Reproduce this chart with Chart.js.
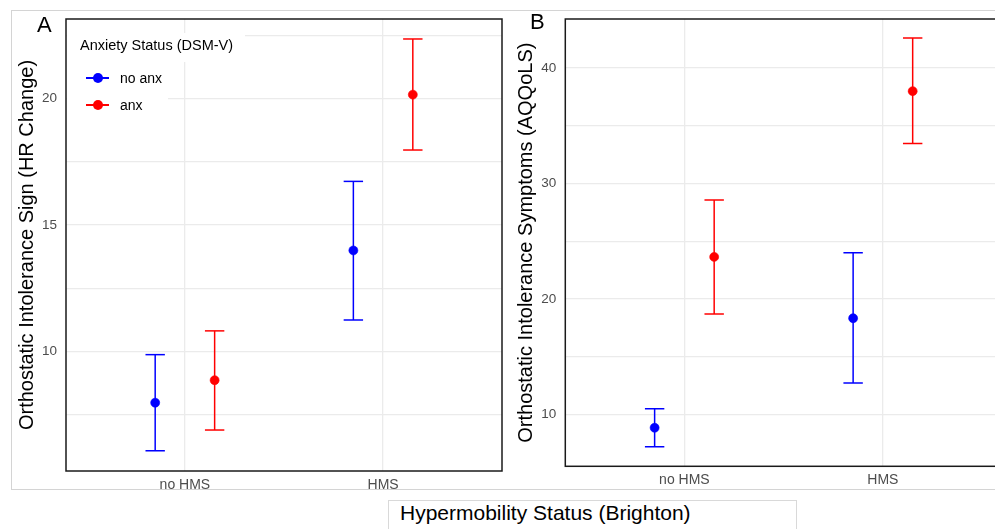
<!DOCTYPE html>
<html>
<head>
<meta charset="utf-8">
<script src="https://cdn.jsdelivr.net/npm/chart.js"></script>
<style>
  body { margin: 0; width: 995px; height: 529px; overflow: hidden; background: #fff; position: relative; font-family: 'Liberation Sans', Arial, sans-serif; }
  .abs { position: absolute; }
  canvas { display: block; }
  #frame { left: 11px; top: 10px; width: 1000px; height: 478px; border: 1px solid #d4d4d4; }
  .lg-box { position: absolute; background: #fff; }
  .lg-title { position: absolute; left: 80px; top: 37px; font-size: 14.5px; line-height: 17px; color: #000; white-space: nowrap; }
  .lg-item { position: absolute; left: 86px; height: 16px; font-size: 14px; line-height: 16px; color: #000; white-space: nowrap; }
  .lg-line { position: absolute; left: 0; top: 7px; width: 23px; height: 1.5px; }
  .lg-dot { position: absolute; left: 7px; top: 3px; width: 10px; height: 10px; border-radius: 50%; }
  .lg-text { position: absolute; left: 34px; top: 0; }
  .panel-tag { position: absolute; font-size: 22px; line-height: 22px; color: #000; }
  #xTitle { left: 388px; top: 500px; width: 396px; height: 40px; border: 1px solid #d9d9d9; padding-left: 11px; font-size: 21px; line-height: 24px; color: #000; white-space: nowrap; }
</style>
</head>
<body>
<div id="frame" class="abs"></div>
<div class="abs" style="left:0;top:0"><canvas id="chartA" width="504" height="500"></canvas></div>
<div class="abs" style="left:499px;top:0"><canvas id="chartB" width="503" height="500"></canvas></div>
<div id="legend"></div>
<div class="panel-tag" style="left:37px;top:14px">A</div>
<div class="panel-tag" style="left:530px;top:11px">B</div>
<div id="xTitle" class="abs">Hypermobility Status (Brighton)</div>

<script>
const categories = ['no HMS', 'HMS'];
const groups = ['no anx', 'anx'];
const groupColors = ['#0000ff', '#ff0000'];
const dodge = [-0.15, 0.15];

// Panel A: HR change (mean, lower, upper)
const hrMeanNoAnx = [7.98, 14.0];
const hrLowNoAnx = [6.08, 11.25];
const hrHighNoAnx = [9.88, 16.73];
const hrMeanAnx = [8.87, 20.16];
const hrLowAnx = [6.90, 17.97];
const hrHighAnx = [10.82, 22.36];
const hrTicks = [10, 15, 20];

// Panel B: AQQoLS
const sxMeanNoAnx = [8.84, 18.33];
const sxLowNoAnx = [7.19, 12.71];
const sxHighNoAnx = [10.49, 23.99];
const sxMeanAnx = [23.64, 38.0];
const sxLowAnx = [18.7, 33.47];
const sxHighAnx = [28.58, 42.6];
const sxTicks = [10, 20, 30, 40];

Chart.defaults.font.family = "'Liberation Sans', Arial, sans-serif";

function buildDatasets(means, lows, highs) {
    let sets = [];
    groups.forEach((g, gi) => {
        let color = groupColors[gi];
        categories.forEach((c, ci) => {
            let x = ci + 1 + dodge[gi];
            sets.push({
                data: [{ x, y: lows[gi][ci] }, { x, y: highs[gi][ci] }],
                showLine: true,
                borderColor: color,
                borderWidth: 1.5,
                pointStyle: 'line',
                pointRadius: 9.7,
                pointBorderWidth: 1.5,
                pointBorderColor: color,
                order: 2
            });
        });
        sets.push({
            label: g,
            data: categories.map((c, ci) => ({ x: ci + 1 + dodge[gi], y: means[gi][ci] })),
            backgroundColor: color,
            borderColor: color,
            pointRadius: 4.5,
            pointBorderWidth: 0.6,
            order: 1
        });
    });
    return sets;
}

const panelBorder = {
    id: 'panelBorder',
    afterDraw(chart) {
        let { ctx, chartArea: a } = chart;
        ctx.save();
        ctx.strokeStyle = '#1a1a1a';
        ctx.lineWidth = 1.5;
        ctx.strokeRect(a.left, a.top, a.right - a.left, a.bottom - a.top);
        ctx.restore();
    }
};

let panelOptions = (yMin, yMax, yStep, yLabels, yTitle, yWidth, xHeight, padRight, titlePad) => ({
    responsive: false,
    animation: false,
    layout: { autoPadding: false, padding: { top: 19, right: padRight, left: 0, bottom: 0 } },
    plugins: { legend: { display: false }, tooltip: { enabled: false } },
    scales: {
        x: {
            type: 'linear',
            min: 0.4,
            max: 2.6,
            afterFit: s => { s.height = xHeight; },
            border: { display: false },
            grid: { color: '#ebebeb', lineWidth: 1.3, drawTicks: false },
            ticks: {
                stepSize: 1,
                includeBounds: false,
                padding: 5.5,
                color: '#4d4d4d',
                font: { size: 14 },
                callback: v => categories[v - 1] ?? ''
            }
        },
        y: {
            min: yMin,
            max: yMax,
            afterFit: s => { s.width = yWidth; },
            border: { display: false },
            grid: { color: '#ebebeb', lineWidth: 1.3, drawTicks: false },
            ticks: {
                stepSize: yStep,
                includeBounds: false,
                autoSkip: false,
                padding: 9,
                color: '#4d4d4d',
                font: { size: 13.5 },
                callback: v => yLabels.includes(v) ? v : ''
            },
            title: {
                display: true,
                text: yTitle,
                color: '#000',
                font: { size: 20 },
                padding: { top: titlePad, bottom: 0 }
            }
        }
    }
});

new Chart(document.getElementById('chartA'), {
    type: 'scatter',
    data: { datasets: buildDatasets([hrMeanNoAnx, hrMeanAnx], [hrLowNoAnx, hrLowAnx], [hrHighNoAnx, hrHighAnx]) },
    options: panelOptions(5.28, 23.15, 2.5, hrTicks, 'Orthostatic Intolerance Sign (HR Change)', 66, 29, 2, 15.5),
    plugins: [panelBorder]
});

new Chart(document.getElementById('chartB'), {
    type: 'scatter',
    data: { datasets: buildDatasets([sxMeanNoAnx, sxMeanAnx], [sxLowNoAnx, sxLowAnx], [sxHighNoAnx, sxHighAnx]) },
    options: panelOptions(5.5, 44.25, 5, sxTicks, 'Orthostatic Intolerance Symptoms (AQQoLS)', 66.3, 33.7, 0, 15),
    plugins: [panelBorder]
});

// legend drawn over panel A
let legend = document.getElementById('legend');
legend.innerHTML = '<div class="lg-box" style="left:67px;top:33px;width:178px;height:29px"></div>' +
    '<div class="lg-box" style="left:67px;top:62px;width:101px;height:60px"></div>' +
    '<div class="lg-title">Anxiety Status (DSM-V)</div>' +
    groups.map((g, i) =>
        `<div class="lg-item" style="top:${70 + i * 27.3}px">` +
        `<div class="lg-line" style="background:${groupColors[i]}"></div>` +
        `<div class="lg-dot" style="background:${groupColors[i]}"></div>` +
        `<div class="lg-text">${g}</div></div>`
    ).join('');
</script>
</body>
</html>
